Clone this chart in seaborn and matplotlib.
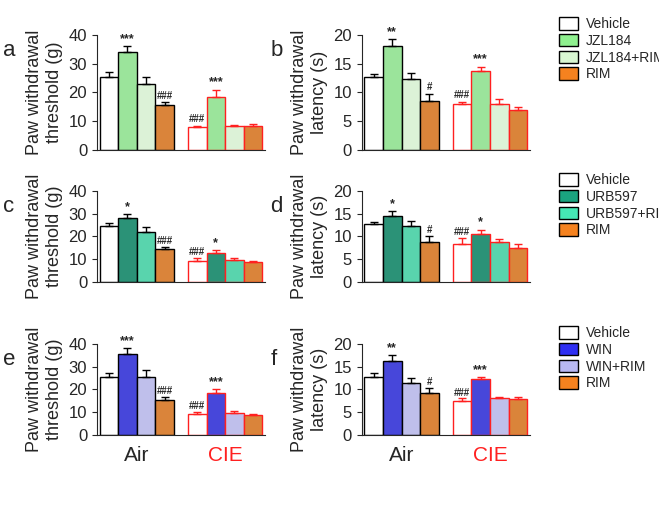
import matplotlib
matplotlib.use("Agg")
import matplotlib.pyplot as plt
import seaborn as sns
import pandas as pd
from matplotlib.patches import Patch

sns.set_style("ticks")
plt.rcParams['font.family'] = ['Arial', 'Liberation Sans', 'DejaVu Sans']

conditions = ["Air", "CIE"]
treat_jzl = ["Vehicle", "JZL184", "JZL184+RIM", "RIM"]
treat_urb = ["Vehicle", "URB597", "URB597+RIM", "RIM"]
treat_win = ["Vehicle", "WIN", "WIN+RIM", "RIM"]
colors_jzl = ["#ffffff", "#8ff08f", "#d9f7d2", "#f5821f"]
colors_urb = ["#ffffff", "#1aa37f", "#45e8b5", "#f5821f"]
colors_win = ["#ffffff", "#2e2ef2", "#b8b8f2", "#f5821f"]

# values ordered: Air(Veh, Drug, Drug+RIM, RIM), CIE(Veh, Drug, Drug+RIM, RIM)
a_mean = [25.5, 34, 23, 15.5, 8, 18.5, 8.5, 8.5]
a_err = [1.5, 2, 2.5, 1, 0.5, 2.5, 0.3, 0.5]
b_mean = [12.7, 18, 12.3, 8.5, 8, 13.7, 8, 7]
b_err = [0.5, 1.3, 1, 1.3, 0.4, 0.8, 0.8, 0.5]
c_mean = [24.5, 28, 22, 14.5, 9, 12.5, 9.5, 8.5]
c_err = [1.5, 2, 2, 1, 1.5, 1.5, 1, 0.5]
d_mean = [12.7, 14.5, 12.3, 8.7, 8.3, 10.5, 8.7, 7.5]
d_err = [0.5, 1, 1, 1.3, 1.3, 1, 0.8, 0.8]
e_mean = [25.5, 35.5, 25.5, 15.5, 9, 18.5, 9.5, 8.5]
e_err = [1.5, 2.5, 3, 1, 1, 1.5, 0.8, 0.5]
f_mean = [12.7, 16.2, 11.3, 9.3, 7.5, 12.2, 8, 7.8]
f_err = [0.8, 1.3, 1.3, 1, 0.5, 0.5, 0.3, 0.5]
a_sig = ['', '***', '', '###', '###', '***', '', '']
b_sig = ['', '**', '', '#', '###', '***', '', '']
c_sig = ['', '*', '', '###', '###', '*', '', '']
d_sig = ['', '*', '', '#', '###', '*', '', '']
e_sig = ['', '***', '', '###', '###', '***', '', '']
f_sig = ['', '**', '', '#', '###', '***', '', '']

fig = plt.figure(figsize=(6.59, 5.05), dpi=100)

lx, rx, w = 0.147, 0.549, 0.255
rows = [(0.703, 0.228), (0.442, 0.18), (0.139, 0.18)]

panels = [
    ("a", a_mean, a_err, a_sig, treat_jzl, colors_jzl, 0, 0, "threshold"),
    ("b", b_mean, b_err, b_sig, treat_jzl, colors_jzl, 0, 1, "latency"),
    ("c", c_mean, c_err, c_sig, treat_urb, colors_urb, 1, 0, "threshold"),
    ("d", d_mean, d_err, d_sig, treat_urb, colors_urb, 1, 1, "latency"),
    ("e", e_mean, e_err, e_sig, treat_win, colors_win, 2, 0, "threshold"),
    ("f", f_mean, f_err, f_sig, treat_win, colors_win, 2, 1, "latency"),
]

for letter, mean, err, sig, treats, cols, r, c, kind in panels:
    bot, h = rows[r]
    ax = fig.add_axes([lx if c == 0 else rx, bot, w, h])
    df = pd.DataFrame({
        "cond": [cd for cd in conditions for _ in treats],
        "treat": treats * 2,
        "val": mean,
    })
    sns.barplot(data=df, x="cond", y="val", hue="treat", hue_order=treats,
                palette=cols, errorbar=None, width=0.84, ax=ax, legend=False)
    bar_containers = list(ax.containers)
    top = 40 if kind == "threshold" else 20
    for hi, cont in enumerate(bar_containers):
        for ci, bar in enumerate(cont.patches):
            idx = ci * 4 + hi
            ec = "black" if ci == 0 else "#ff2020"
            bar.set_edgecolor(ec)
            bar.set_linewidth(1.0)
            xc = bar.get_x() + bar.get_width() / 2
            ax.errorbar(xc, mean[idx], yerr=[[0], [err[idx]]], color=ec,
                        capsize=3, elinewidth=1, capthick=1)
            if sig[idx]:
                ax.text(xc, mean[idx] + err[idx] + top * 0.01, sig[idx],
                        ha="center", va="bottom",
                        fontsize=9 if sig[idx].startswith("*") else 7,
                        fontweight="bold")
    ax.set_xlim(-0.45, 1.45)
    if kind == "threshold":
        ax.set_ylim(0, 40)
        ax.set_yticks([0, 10, 20, 30, 40])
        ax.set_ylabel("Paw withdrawal\nthreshold (g)", fontsize=13)
    else:
        ax.set_ylim(0, 20)
        ax.set_yticks([0, 5, 10, 15, 20])
        ax.set_ylabel("Paw withdrawal\nlatency (s)", fontsize=13)
    ax.tick_params(axis="y", labelsize=12)
    ax.set_xlabel("")
    sns.despine(ax=ax)
    if r == 2:
        ax.set_xticks([0, 1])
        ax.set_xticklabels(conditions, fontsize=15)
        ax.get_xticklabels()[1].set_color("#ff2020")
        ax.tick_params(axis="x", length=0, pad=8)
    else:
        ax.set_xticks([])
    fig.text(0.005 if c == 0 else 0.41, bot + h - 0.01, letter,
             fontsize=16, va="top")
    if c == 1:
        handles = [Patch(facecolor=cl, edgecolor="black", label=t)
                   for t, cl in zip(treats, cols)]
        fig.legend(handles=handles, loc="upper left",
                   bbox_to_anchor=(0.83, bot + h + 0.06), frameon=False,
                   fontsize=10, handlelength=1.3, handleheight=1.0,
                   labelspacing=0.2, handletextpad=0.6)

fig.savefig("out.png", dpi=100)
